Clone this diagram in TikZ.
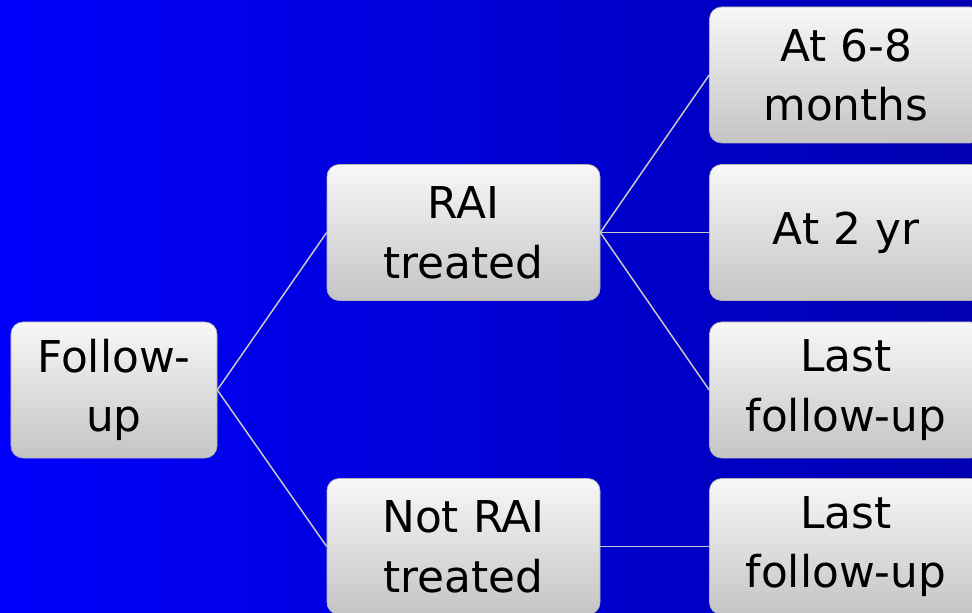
\documentclass[tikz,border=0pt]{standalone}
\usepackage{fontspec}
\setmainfont{DejaVu Sans}
\begin{document}
\begin{tikzpicture}[x=1bp,y=-1bp,
  box/.style={rectangle, rounded corners=12bp, draw=black!30, line width=0.6bp,
    top color=black!3, bottom color=black!23,
    minimum width=273bp, minimum height=136bp, align=center,
    font=\fontsize{44}{60}\selectfont, inner sep=0pt, text=black},
  link/.style={draw=black!22, line width=1.5bp}]
\useasboundingbox (0,0) rectangle (972,613);
\clip (0,0) rectangle (972,613);
\shade[left color={rgb,255:red,0;green,0;blue,252}, right color={rgb,255:red,0;green,0;blue,176}] (0,0) rectangle (972,613);
\node[box, minimum width=206bp] (fu) at (114,390) {Follow-\\up};
\node[box] (rai) at (463.5,232.5) {RAI\\treated};
\node[box] (nrai) at (463.5,546.5) {Not RAI\\treated};
\node[box] (m68) at (846,75) {At 6-8\\months};
\node[box] (y2) at (846,232.5) {At 2 yr};
\node[box] (last1) at (846,390) {Last\\follow-up};
\node[box] (last2) at (846,546.5) {Last\\follow-up};
\draw[link] (fu.east) -- (rai.west);
\draw[link] (fu.east) -- (nrai.west);
\draw[link] (rai.east) -- (m68.west);
\draw[link] (rai.east) -- (y2.west);
\draw[link] (rai.east) -- (last1.west);
\draw[link] (nrai.east) -- (last2.west);
\end{tikzpicture}
\end{document}
